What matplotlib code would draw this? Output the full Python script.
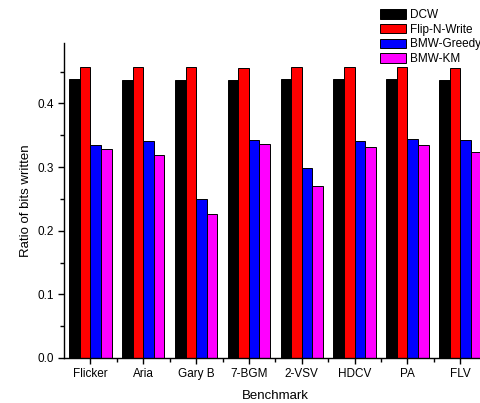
import matplotlib
matplotlib.use("Agg")
import matplotlib.pyplot as plt
import numpy as np
from matplotlib.ticker import MultipleLocator, FixedLocator

categories = ["Flicker", "Aria", "Gary B", "7-BGM", "2-VSV", "HDCV", "PA", "FLV"]
series_names = ["DCW", "Flip-N-Write", "BMW-Greedy", "BMW-KM"]
dcw = [0.438, 0.437, 0.437, 0.437, 0.438, 0.438, 0.438, 0.437]
fnw = [0.458, 0.457, 0.457, 0.455, 0.457, 0.458, 0.457, 0.456]
greedy = [0.334, 0.341, 0.250, 0.343, 0.298, 0.341, 0.344, 0.343]
km = [0.328, 0.319, 0.227, 0.336, 0.271, 0.331, 0.334, 0.323]
colors = ["#000000", "#ff0000", "#0000ff", "#ff00ff"]

plt.rcParams['font.family'] = ['Liberation Sans', 'DejaVu Sans']

fig = plt.figure(figsize=(4.81, 4.03), dpi=100)
ax = fig.add_axes([64/481, 45/403, 422.7/481, 315/403])

x = np.arange(len(categories))
w = 0.2
for i, (vals, c, name) in enumerate(zip([dcw, fnw, greedy, km], colors, series_names)):
    ax.bar(x - 0.3 + i * w, vals, width=w, color=c, edgecolor="black", linewidth=0.7, label=name)

ax.set_xlim(-0.5, 7.5)
ax.set_ylim(0, 0.495)
ax.set_xticks(x)
ax.set_xticklabels(categories, fontsize=8.5)
ax.xaxis.set_minor_locator(FixedLocator(x[:-1] + 0.5))
ax.yaxis.set_major_locator(MultipleLocator(0.1))
ax.yaxis.set_minor_locator(MultipleLocator(0.05))
ax.tick_params(axis='both', which='major', direction='out', length=4, width=1, labelsize=8.5)
ax.tick_params(axis='both', which='minor', direction='out', length=3, width=1)
ax.set_yticklabels([f"{v:.1f}" for v in ax.get_yticks()])
for s in ["top", "right"]:
    ax.spines[s].set_visible(False)
ax.spines["left"].set_linewidth(1)
ax.spines["bottom"].set_linewidth(1)

ax.set_xlabel("Benchmark", fontsize=9.5, labelpad=7)
ax.set_ylabel("Ratio of bits written", fontsize=9.5, labelpad=4)

leg = ax.legend(loc="upper left", bbox_to_anchor=(379/481, 1 - 8/403), bbox_transform=fig.transFigure,
                frameon=False, fontsize=8.5, handlelength=2.2, handleheight=0.85,
                handletextpad=0.35, labelspacing=0.22, borderaxespad=0, borderpad=0.1)

fig.savefig("out.png", dpi=100)
